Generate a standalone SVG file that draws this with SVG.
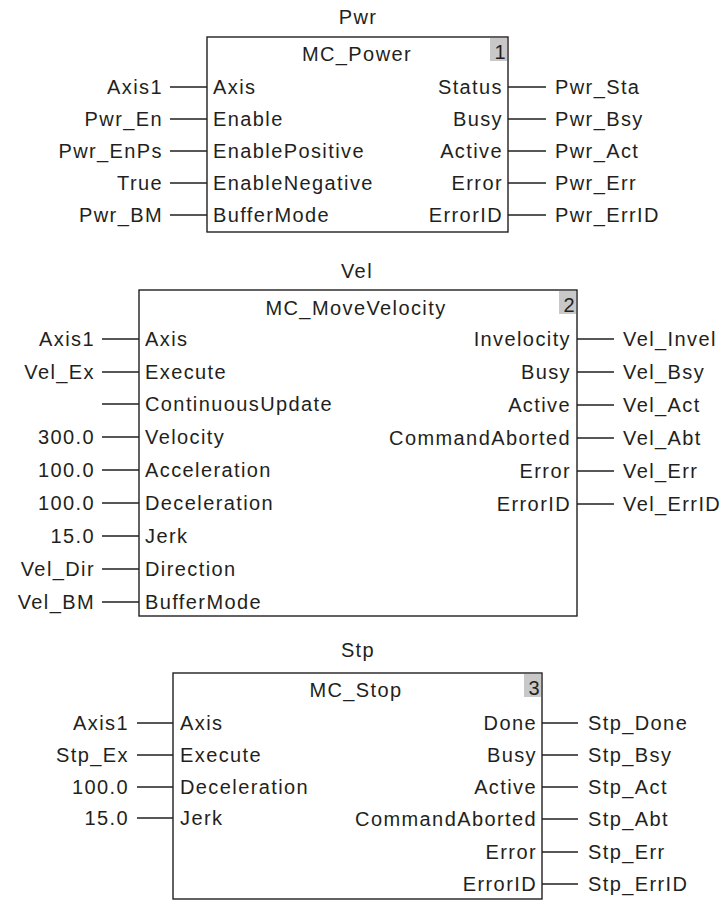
<svg xmlns="http://www.w3.org/2000/svg" width="727" height="902" viewBox="0 0 727 902">
<style>
text{font-family:"Liberation Sans",Arial,sans-serif;font-size:20px;fill:#231f20;letter-spacing:1.4px}
.box{fill:#fff;stroke:#231f20;stroke-width:1.4}
.badge{fill:#c8c8c8}
.c{text-anchor:middle}
.e{text-anchor:end}
.w{stroke:#231f20;stroke-width:1.4;fill:none}
</style>
<g id="pwr">
<text class="c" x="358" y="24">Pwr</text>
<rect class="box" x="207" y="37" width="301" height="195"/>
<rect class="badge" x="490" y="38" width="17" height="23"/>
<text class="e" x="507" y="59">1</text>
<text class="c" x="357" y="61">MC_Power</text>
<text x="213" y="94">Axis</text>
<text x="213" y="126">Enable</text>
<text x="213" y="158">EnablePositive</text>
<text x="213" y="190">EnableNegative</text>
<text x="213" y="222">BufferMode</text>
<text class="e" x="503" y="94">Status</text>
<text class="e" x="503" y="126">Busy</text>
<text class="e" x="503" y="158">Active</text>
<text class="e" x="503" y="190">Error</text>
<text class="e" x="503" y="222">ErrorID</text>
<text class="e" x="163" y="94">Axis1</text>
<text class="e" x="163" y="126">Pwr_En</text>
<text class="e" x="163" y="158">Pwr_EnPs</text>
<text class="e" x="163" y="190">True</text>
<text class="e" x="163" y="222">Pwr_BM</text>
<text x="555" y="94">Pwr_Sta</text>
<text x="555" y="126">Pwr_Bsy</text>
<text x="555" y="158">Pwr_Act</text>
<text x="555" y="190">Pwr_Err</text>
<text x="555" y="222">Pwr_ErrID</text>
</g>
<g id="vel">
<text class="c" x="357" y="278">Vel</text>
<rect class="box" x="139" y="290" width="438" height="326"/>
<rect class="badge" x="559" y="291" width="17" height="23"/>
<text class="e" x="576" y="312">2</text>
<text class="c" x="356" y="315">MC_MoveVelocity</text>
<text x="145" y="346">Axis</text>
<text x="145" y="379">Execute</text>
<text x="145" y="411">ContinuousUpdate</text>
<text x="145" y="444">Velocity</text>
<text x="145" y="477">Acceleration</text>
<text x="145" y="510">Deceleration</text>
<text x="145" y="543">Jerk</text>
<text x="145" y="576">Direction</text>
<text x="145" y="609">BufferMode</text>
<text class="e" x="571" y="346">Invelocity</text>
<text class="e" x="571" y="379">Busy</text>
<text class="e" x="571" y="412">Active</text>
<text class="e" x="571" y="445">CommandAborted</text>
<text class="e" x="571" y="478">Error</text>
<text class="e" x="571" y="511">ErrorID</text>
<text class="e" x="95" y="346">Axis1</text>
<text class="e" x="95" y="379">Vel_Ex</text>
<text class="e" x="95" y="444">300.0</text>
<text class="e" x="95" y="477">100.0</text>
<text class="e" x="95" y="510">100.0</text>
<text class="e" x="95" y="543">15.0</text>
<text class="e" x="95" y="576">Vel_Dir</text>
<text class="e" x="95" y="609">Vel_BM</text>
<text x="623" y="346">Vel_Invel</text>
<text x="623" y="379">Vel_Bsy</text>
<text x="623" y="412">Vel_Act</text>
<text x="623" y="445">Vel_Abt</text>
<text x="623" y="478">Vel_Err</text>
<text x="623" y="511">Vel_ErrID</text>
</g>
<g id="stp">
<text class="c" x="358" y="657">Stp</text>
<rect class="box" x="173" y="673" width="369" height="226"/>
<rect class="badge" x="524" y="674" width="17" height="23"/>
<text class="e" x="541" y="695">3</text>
<text class="c" x="356" y="697">MC_Stop</text>
<text x="180" y="730">Axis</text>
<text x="180" y="762">Execute</text>
<text x="180" y="794">Deceleration</text>
<text x="180" y="825">Jerk</text>
<text class="e" x="537" y="730">Done</text>
<text class="e" x="537" y="762">Busy</text>
<text class="e" x="537" y="794">Active</text>
<text class="e" x="537" y="826">CommandAborted</text>
<text class="e" x="537" y="859">Error</text>
<text class="e" x="537" y="891">ErrorID</text>
<text class="e" x="129" y="730">Axis1</text>
<text class="e" x="129" y="762">Stp_Ex</text>
<text class="e" x="129" y="794">100.0</text>
<text class="e" x="129" y="825">15.0</text>
<text x="588" y="730">Stp_Done</text>
<text x="588" y="762">Stp_Bsy</text>
<text x="588" y="794">Stp_Act</text>
<text x="588" y="826">Stp_Abt</text>
<text x="588" y="859">Stp_Err</text>
<text x="588" y="891">Stp_ErrID</text>
</g>
<g id="connectors" class="w">
<path d="M170 87H207M170 119H207M170 151H207M170 183H207M170 215H207"/>
<path d="M508 87H546M508 119H546M508 151H546M508 183H546M508 215H546"/>
<path d="M102 339H139M102 372H139M102 404H139M102 437H139M102 470H139M102 503H139M102 536H139M102 569H139M102 602H139"/>
<path d="M577 339H614M577 372H614M577 405H614M577 438H614M577 471H614M577 504H614"/>
<path d="M137 723H173M137 755H173M137 787H173M137 818H173"/>
<path d="M542 723H578M542 755H578M542 787H578M542 819H578M542 852H578M542 884H578"/>
</g>
</svg>
